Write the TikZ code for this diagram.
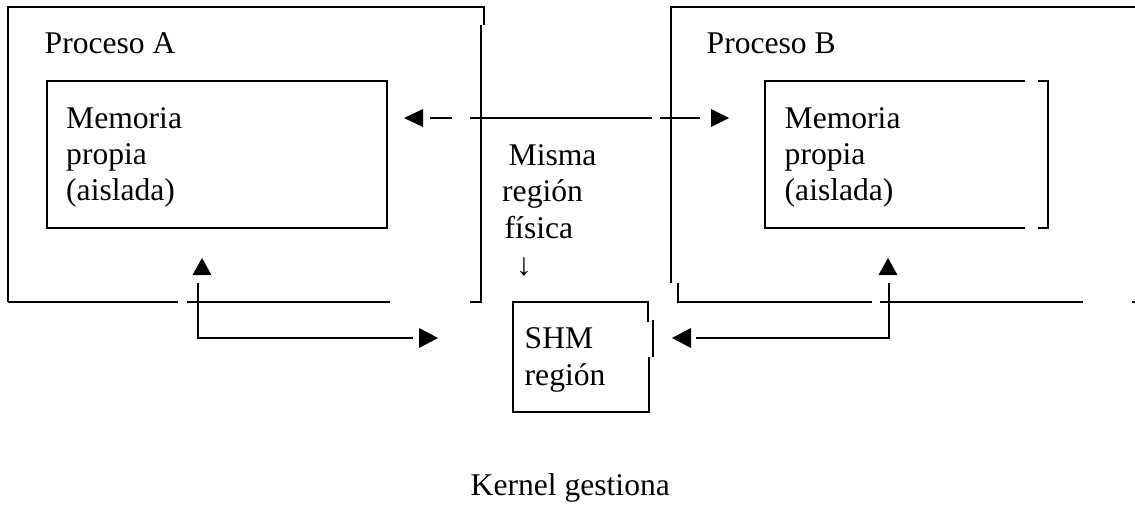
\documentclass[tikz,border=0pt]{standalone}
\usepackage{fontspec}
\setmainfont{Liberation Serif}
\begin{document}
\begin{tikzpicture}[x=1pt,y=-1pt,
  frame/.style={line width=2pt, line join=miter, line cap=butt},
  conn/.style={line width=2pt, line join=miter, line cap=butt},
  head/.style={fill=black},
  lbl/.style={anchor=base west, inner sep=0pt, font=\fontsize{31.6}{36}\selectfont}]
\fill[white] (0,0) rectangle (1135,504);
\useasboundingbox (0,0) rectangle (1135,504);

% ---------- Proceso A outer frame ----------
\draw[frame] (8,302) -- (8,7) -- (484,7) -- (484,25);
\draw[frame] (481,25) -- (481,302) -- (470,302);
\draw[frame] (8,302) -- (178,302);
\draw[frame] (187,302) -- (390,302);
% inner memory A
\draw[frame] (47,81) rectangle (387,228);

% ---------- Proceso B outer frame ----------
\draw[frame] (671,283) -- (671,7) -- (1136,7);
\draw[frame] (678,283) -- (678,302) -- (872,302);
\draw[frame] (880,302) -- (1083,302);
\draw[frame] (1132,302) -- (1136,302);
% inner memory B
\draw[frame] (1025,81) -- (765,81) -- (765,228) -- (1025,228);
\draw[frame] (1038,81) -- (1048,81) -- (1048,228) -- (1038,228);

% ---------- SHM box ----------
\draw[frame] (648,322) -- (648,302) -- (513,302) -- (513,412) -- (649,412) -- (649,357);
\draw[frame] (653,320) -- (653,357);

% ---------- texts ----------
\node[lbl] (procA) at (44.5,53) {Proceso A};
\node[lbl] (memA1) at (66,128) {Memoria};
\node[lbl] (memA2) at (66,164) {propia};
\node[lbl] (memA3) at (66,200) {(aislada)};

\node[lbl] (procB) at (706.5,53) {Proceso B};
\node[lbl] (memB1) at (784.5,128) {Memoria};
\node[lbl] (memB2) at (784.5,164) {propia};
\node[lbl] (memB3) at (784.5,200) {(aislada)};

\node[lbl] (mis1) at (508.5,165) {Misma};
\node[lbl] (mis2) at (502,201) {región};
\node[lbl] (mis3) at (504.5,238) {física};
\node[lbl, anchor=base] (down) at (524,275) {↓};

\node[lbl] (shm1) at (524.5,348) {SHM};
\node[lbl] (shm2) at (524.5,385) {región};

\node[lbl] (kern) at (470.5,495) {Kernel gestiona};

% ---------- connectors ----------
% dashed double arrow between the two private memories
\coordinate (dl) at (404,118);
\coordinate (dr) at (729,118);
\draw[conn, dash pattern=on 22pt off 18pt on 182pt off 8pt on 40pt]
  ([xshift=26pt]dl) -- ([xshift=-29pt]dr);
\fill[head] (dl) -- ++(19,-9) -- ++(0,18) -- cycle;
\fill[head] (dr) -- ++(-18,-9) -- ++(0,18) -- cycle;

% Proceso A <-> SHM
\coordinate (upA) at (202,258);
\coordinate (shmL) at (438,338);
\draw[conn] (198,283) |- ([xshift=-25pt]shmL);
\fill[head] (upA) -- ++(-9.5,17) -- ++(19,0) -- cycle;
\fill[head] (shmL) -- ++(-19,-10) -- ++(0,20) -- cycle;

% Proceso B <-> SHM
\coordinate (upB) at (888,258);
\coordinate (shmR) at (672,338);
\draw[conn] (889,283) |- ([xshift=24pt]shmR);
\fill[head] (upB) -- ++(-9.5,17) -- ++(19,0) -- cycle;
\fill[head] (shmR) -- ++(19,-10) -- ++(0,20) -- cycle;
\end{tikzpicture}
\end{document}
